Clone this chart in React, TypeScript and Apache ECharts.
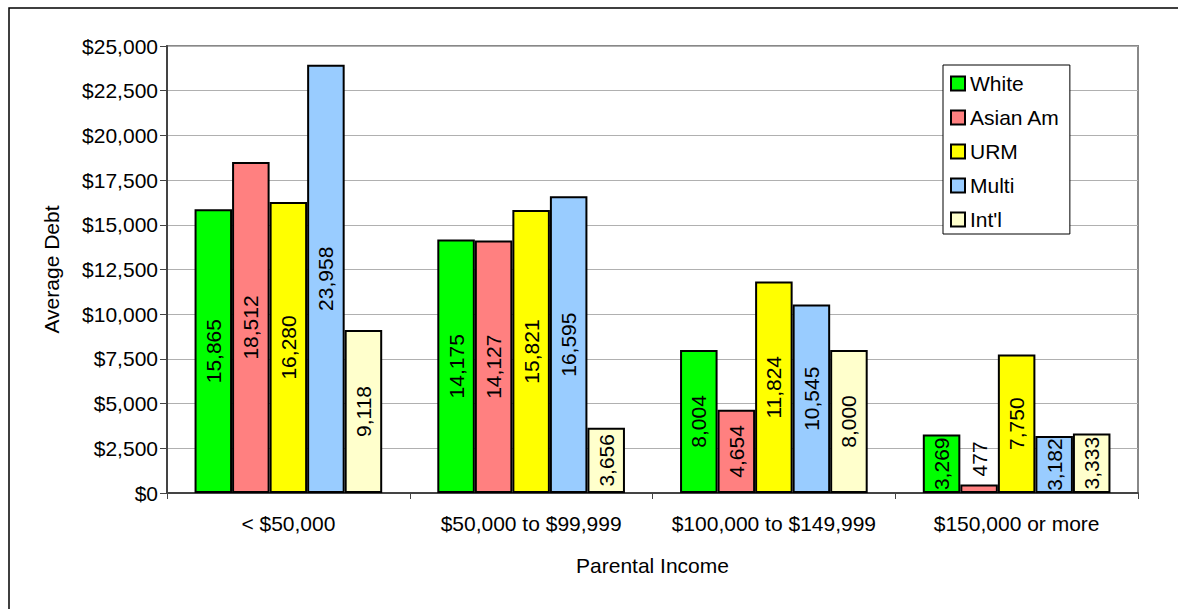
import React, { useEffect, useRef } from "react";
import * as echarts from "echarts";

const categories = ["< $50,000", "$50,000 to $99,999", "$100,000 to $149,999", "$150,000 or more"];
const seriesNames = ["White", "Asian Am", "URM", "Multi", "Int'l"];
const white = [15865, 14175, 8004, 3269];
const asianAm = [18512, 14127, 4654, 477];
const urm = [16280, 15821, 11824, 7750];
const multi = [23958, 16595, 10545, 3182];
const intl = [9118, 3656, 8000, 3333];
const colors = ["#00FF00", "#FF8080", "#FFFF00", "#99CCFF", "#FFFFCC"];

const FONT = "'Liberation Sans', Arial, sans-serif";
const FS = 21;
const fmt = (v: number) => v.toLocaleString("en-US");

export default function App() {
  const ref = useRef<HTMLDivElement>(null);
  useEffect(() => {
    if (!ref.current) return;
    const chart = echarts.init(ref.current, null, { renderer: "svg" });
    const allData = [white, asianAm, urm, multi, intl];
    const series = allData.map((arr, i) => ({
      name: seriesNames[i],
      type: "bar",
      barGap: "0%",
      barCategoryGap: "22.7%",
      itemStyle: { color: colors[i], borderColor: "#000", borderWidth: 2 },
      label: {
        show: true,
        position: "inside",
        rotate: 90,
        fontSize: FS,
        fontFamily: FONT,
        color: "#000",
        formatter: (p: any) => fmt(p.value),
      },
      data: arr.map((v) =>
        v < 1500
          ? {
              value: v,
              label: { position: "top", align: "left", verticalAlign: "middle", distance: 8 },
            }
          : v
      ),
    }));
    chart.setOption({
      animation: false,
      backgroundColor: "#fff",
      textStyle: { fontFamily: FONT },
      graphic: [
        {
          type: "rect",
          shape: { x: 9, y: 8, width: 1300, height: 800 },
          style: { fill: "none", stroke: "#000", lineWidth: 1.5 },
          silent: true,
        },
      ],
      grid: {
        left: 167,
        top: 46,
        width: 971,
        height: 447,
        show: true,
        borderColor: "#888",
        borderWidth: 2,
        backgroundColor: "transparent",
      },
      legend: {
        orient: "vertical",
        left: 943,
        top: 65,
        padding: [8, 10, 4, 7],
        itemWidth: 14,
        itemHeight: 14,
        itemGap: 13,
        borderColor: "#000",
        borderWidth: 1,
        backgroundColor: "#fff",
        icon: "rect",
        textStyle: { fontSize: FS, fontFamily: FONT, color: "#000", lineHeight: 20 },
        data: seriesNames,
      },
      xAxis: {
        type: "category",
        data: categories,
        axisLine: { lineStyle: { color: "#444", width: 2 } },
        axisTick: { show: true, length: 6, lineStyle: { color: "#444" } },
        axisLabel: { fontSize: FS, fontFamily: FONT, color: "#000", margin: 20, interval: 0 },
        name: "Parental Income",
        nameLocation: "middle",
        nameGap: 62,
        nameTextStyle: { fontSize: FS, fontFamily: FONT, color: "#000" },
      },
      yAxis: {
        type: "value",
        min: 0,
        max: 25000,
        interval: 2500,
        axisLine: { show: true, lineStyle: { color: "#444", width: 2 } },
        axisTick: { show: true, length: 7, lineStyle: { color: "#444" } },
        splitLine: { lineStyle: { color: "#b0b0b0", width: 1 } },
        axisLabel: {
          fontSize: FS,
          fontFamily: FONT,
          color: "#000",
          margin: 9,
          formatter: (v: number) => "$" + fmt(v),
        },
        name: "Average Debt",
        nameLocation: "middle",
        nameGap: 105,
        nameRotate: 90,
        nameTextStyle: { fontSize: FS, fontFamily: FONT, color: "#000" },
      },
      series,
    });
    return () => chart.dispose();
  }, []);
  return (
    <div
      ref={ref}
      style={{ position: "fixed", left: 0, top: 0, width: 1178, height: 609 }}
    />
  );
}
